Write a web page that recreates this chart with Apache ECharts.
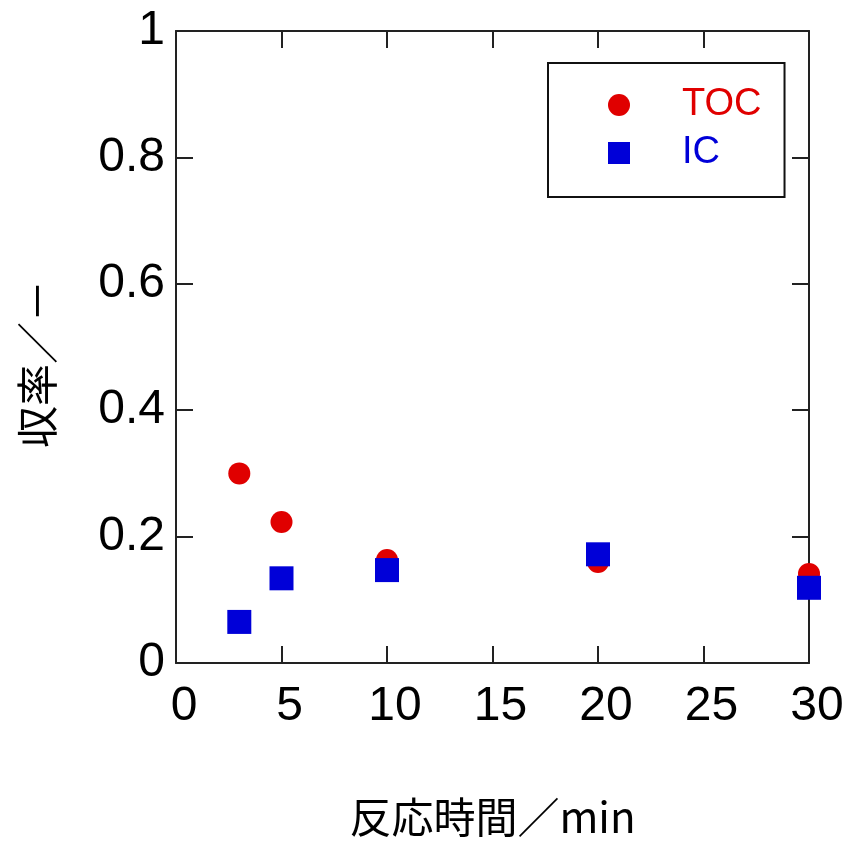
<!DOCTYPE html>
<html>
<head>
<meta charset="utf-8">
<script src="https://cdn.jsdelivr.net/npm/echarts@6/dist/echarts.min.js"></script>
<style>html,body{margin:0;padding:0;background:#fff;}#c{width:851px;height:852px;}</style>
</head>
<body>
<div id="c"></div>
<script>
const timeMin = [3, 5, 10, 20, 30];
const tocYield = [0.300, 0.223, 0.163, 0.160, 0.141];
const icYield = [0.065, 0.134, 0.147, 0.172, 0.119];
const seriesNames = ['TOC', 'IC'];
const xTitle = '反応時間／min';
const yTitle = '収率／－';

const RED = '#e00000';
const BLUE = '#0000d8';
const AX = '#222';
const numFont = "'Liberation Sans', Arial, sans-serif";
const cjkFont = "'Noto Sans CJK JP', sans-serif";

const chart = echarts.init(document.getElementById('c'));
function axisCommon() {
  return {
    axisLine: {show: true, onZero: false, lineStyle: {color: AX, width: 2}},
    axisTick: {show: true, inside: true, length: 17, lineStyle: {color: AX, width: 2}},
    splitLine: {show: false}
  };
}
chart.setOption({
  backgroundColor: '#fff',
  animation: false,
  grid: {left: 176, top: 31, width: 633, height: 632},
  legend: {
    orient: 'vertical',
    left: 548, top: 63,
    padding: [23, 23, 25, 60],
    borderColor: '#111', borderWidth: 2,
    itemWidth: 22, itemHeight: 22,
    itemGap: 10,
    textStyle: {fontSize: 38, lineHeight: 38, fontFamily: numFont, padding: [0, 0, 0, 47]},
    data: [
      {name: seriesNames[0], icon: 'circle', textStyle: {color: RED}},
      {name: seriesNames[1], icon: 'rect', textStyle: {color: BLUE}}
    ]
  },
  xAxis: [
    Object.assign({
      type: 'value', min: 0, max: 30, interval: 5, position: 'bottom',
      axisLabel: {fontSize: 48, color: '#000', fontFamily: numFont, margin: 20, padding: [0, 0, 0, 16]},
      name: xTitle, nameLocation: 'middle', nameGap: 133,
      nameTextStyle: {fontSize: 42, color: '#000', fontFamily: cjkFont}
    }, axisCommon()),
    Object.assign({
      type: 'value', min: 0, max: 30, interval: 5, position: 'top',
      axisLabel: {show: false}
    }, axisCommon())
  ],
  yAxis: [
    Object.assign({
      type: 'value', min: 0, max: 1, interval: 0.2, position: 'left',
      axisLabel: {fontSize: 48, color: '#000', fontFamily: numFont, margin: 11},
      name: yTitle, nameLocation: 'middle', nameGap: 118,
      nameTextStyle: {fontSize: 42, color: '#000', fontFamily: cjkFont, padding: [0, 34, 0, 0]}
    }, axisCommon()),
    Object.assign({
      type: 'value', min: 0, max: 1, interval: 0.2, position: 'right',
      axisLabel: {show: false}
    }, axisCommon())
  ],
  series: [
    {
      name: seriesNames[0], type: 'scatter', symbol: 'circle', symbolSize: 22,
      itemStyle: {color: RED, opacity: 1},
      data: timeMin.map((t, i) => [t, tocYield[i]]),
      z: 2
    },
    {
      name: seriesNames[1], type: 'scatter', symbol: 'rect', symbolSize: 24,
      itemStyle: {color: BLUE, opacity: 1},
      data: timeMin.map((t, i) => [t, icYield[i]]),
      z: 3
    }
  ]
});
</script>
</body>
</html>
